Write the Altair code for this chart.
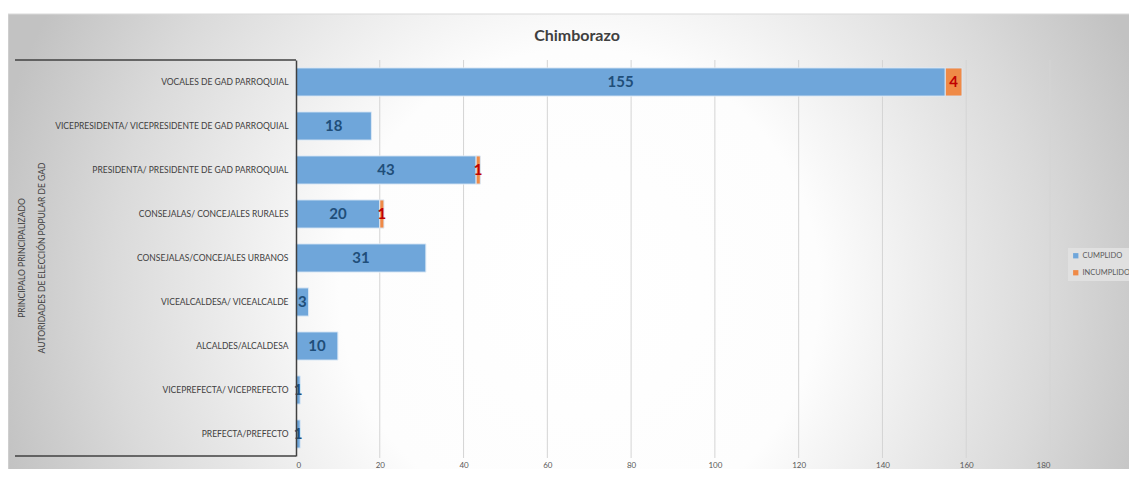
import altair as alt
import pandas as pd

# ---- data ----
categories = [
    "VOCALES DE GAD PARROQUIAL",
    "VICEPRESIDENTA/ VICEPRESIDENTE DE GAD PARROQUIAL",
    "PRESIDENTA/ PRESIDENTE DE GAD PARROQUIAL",
    "CONSEJALAS/ CONCEJALES RURALES",
    "CONSEJALAS/CONCEJALES URBANOS",
    "VICEALCALDESA/ VICEALCALDE",
    "ALCALDES/ALCALDESA",
    "VICEPREFECTA/ VICEPREFECTO",
    "PREFECTA/PREFECTO",
]
cumplido = [155, 18, 43, 20, 31, 3, 10, 1, 1]
incumplido = [4, 0, 1, 1, 0, 0, 0, 0, 0]
series = ["CUMPLIDO", "INCUMPLIDO"]
x_ticks = [0, 20, 40, 60, 80, 100, 120, 140, 160, 180]
group_labels = ["PRINCIPALO PRINCIPALIZADO", "AUTORIDADES DE ELECCIÓN POPULAR DE GAD"]
chart_title = "Chimborazo"

bar_colors = ["#6fa6da", "#ef8a47"]
label_colors = ["#1f4e79", "#c00000"]

rows = []
for cat, c, i in zip(categories, cumplido, incumplido):
    start = 0
    for s, v in zip(series, [c, i]):
        if v > 0:
            rows.append({"cat": cat, "series": s, "value": v,
                         "start": start, "end": start + v, "mid": start + v / 2})
        start += v
df = pd.DataFrame(rows)

W, H = 754, 396
FONT = "Lato"

xscale = alt.Scale(domain=[x_ticks[0], x_ticks[-1]], nice=False, zero=True)
yenc = alt.Y("cat:N", sort=categories,
             scale=alt.Scale(paddingInner=0.36, paddingOuter=0.18),
             axis=alt.Axis(title=None, domain=True, domainColor="#404040", domainWidth=1.5,
                           ticks=False, labelPadding=8, labelFontSize=8.5, labelFont=FONT,
                           labelColor="#404040", labelLimit=300, zindex=1))

one = pd.DataFrame({"a": [0]})

bg = alt.Chart(one).mark_rect(
    fill={"gradient": "radial", "x1": 0.505, "y1": 0.53, "r1": 0,
          "x2": 0.505, "y2": 0.53, "r2": 0.53,
          "stops": [{"offset": 0, "color": "#ffffff"},
                    {"offset": 0.4, "color": "#fdfdfd"},
                    {"offset": 0.78, "color": "#dadada"},
                    {"offset": 1, "color": "#c2c2c2"}]},
    stroke="#d9d9d9", strokeWidth=1,
).encode(x=alt.value(-288), x2=alt.value(W + 90), y=alt.value(-46), y2=alt.value(H + 40))

bracket_top = alt.Chart(one).mark_rule(color="#404040", strokeWidth=1.5).encode(
    x=alt.value(-281), x2=alt.value(0), y=alt.value(0))
bracket_bot = alt.Chart(one).mark_rule(color="#404040", strokeWidth=1.5).encode(
    x=alt.value(-281), x2=alt.value(0), y=alt.value(H))

grid = alt.Chart(pd.DataFrame({"t": x_ticks[1:]})).mark_rule(color="#d4d4d4", strokeWidth=1).encode(
    x=alt.X("t:Q", scale=xscale), y=alt.value(0), y2=alt.value(H + 2))

bars = alt.Chart(df).mark_bar(stroke="#dbe8f5", strokeWidth=1).encode(
    x=alt.X("start:Q", scale=xscale,
            axis=alt.Axis(title=None, values=x_ticks, domain=False, ticks=False, grid=False,
                          labelFontSize=8, labelFont=FONT, labelColor="#595959",
                          labelPadding=5, zindex=1)),
    x2="end:Q",
    y=yenc,
    color=alt.Color("series:N", scale=alt.Scale(domain=series, range=bar_colors),
                    legend=alt.Legend(title=None, orient="none", legendX=772, legendY=188,
                                      symbolType="square", symbolSize=28, symbolStrokeWidth=0,
                                      labelFontSize=7.5, labelFont=FONT, labelColor="#595959",
                                      labelOffset=3, rowPadding=8, padding=4,
                                      fillColor="#e0e0e0")),
)

txt1 = alt.Chart(df).transform_filter(alt.datum.series == series[0]).mark_text(
    font=FONT, fontWeight="bold", fontSize=15, color=label_colors[0], baseline="middle"
).encode(x=alt.X("mid:Q", scale=xscale), y=alt.Y("cat:N", sort=categories), text="value:Q")

txt2 = alt.Chart(df).transform_filter(alt.datum.series == series[1]).mark_text(
    font=FONT, fontWeight="bold", fontSize=15, color=label_colors[1], baseline="middle"
).encode(x=alt.X("mid:Q", scale=xscale), y=alt.Y("cat:N", sort=categories), text="value:Q")

grp = alt.Chart(one).mark_text(
    text=group_labels, angle=270, font=FONT, fontSize=8.5, color="#404040",
    align="center", baseline="middle", lineHeight=20
).encode(x=alt.value(-274), y=alt.value(H / 2))

title_mark = alt.Chart(one).mark_text(
    text=chart_title, font=FONT, fontSize=16, fontWeight="bold", color="#404040",
    align="center", baseline="middle"
).encode(x=alt.value(281), y=alt.value(-24))

chart = alt.layer(bg, grid, bracket_top, bracket_bot, bars, txt1, txt2, grp, title_mark).properties(
    width=W, height=H,
    autosize=alt.AutoSizeParams(type="none"),
    padding={"left": 288, "top": 52, "right": 79, "bottom": 13},
).configure_view(stroke=None).configure(background="white")

chart.save("out.html", embed_options={"renderer": "svg", "actions": False})
